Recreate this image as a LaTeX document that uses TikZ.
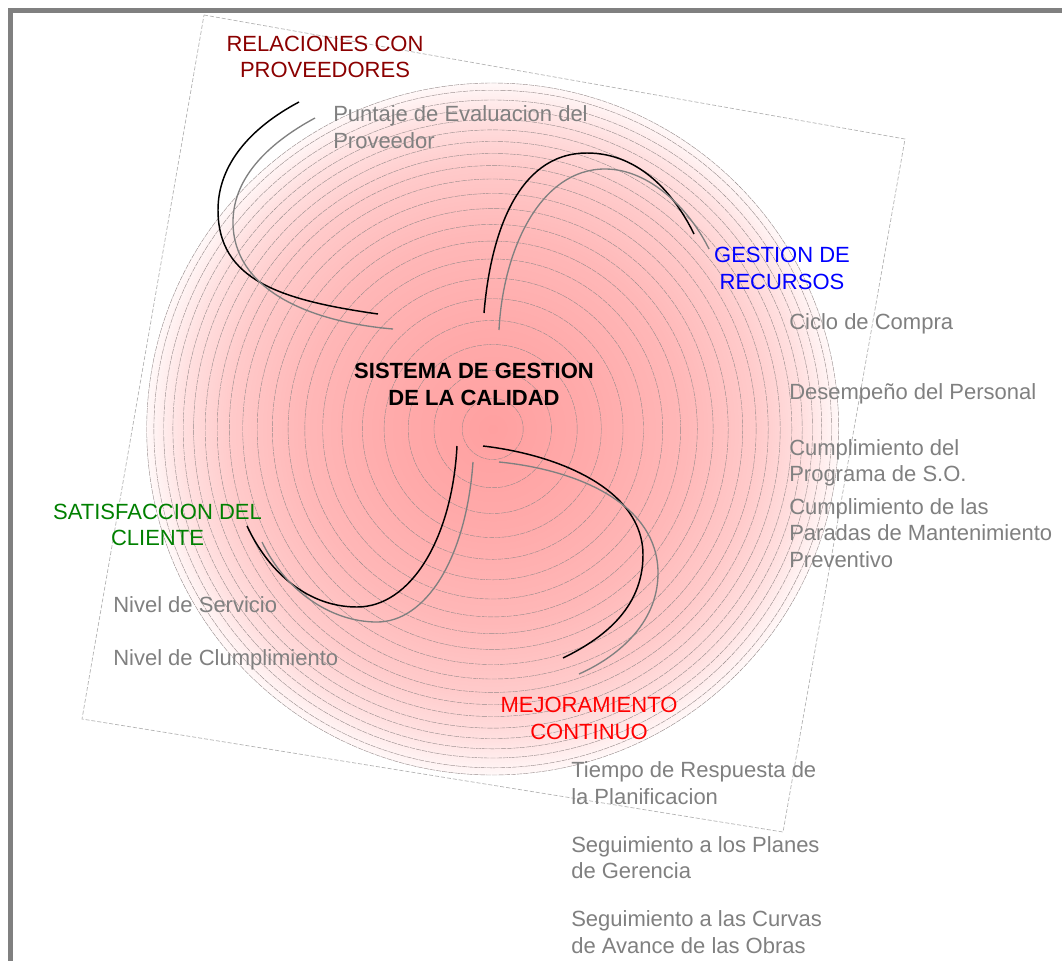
\documentclass[tikz,border=0pt]{standalone}
\usepackage{fontspec}
\setmainfont{Liberation Sans}
\definecolor{pinkA}{RGB}{255,160,160}
\definecolor{pinkB}{RGB}{255,170,170}
\definecolor{pinkC}{RGB}{255,184,184}
\definecolor{pinkD}{RGB}{255,202,202}
\definecolor{pinkF}{RGB}{255,224,224}
\definecolor{pinkE}{RGB}{255,248,248}
\definecolor{ringc}{RGB}{150,138,138}
\definecolor{itemc}{RGB}{128,128,128}
\definecolor{relc}{RGB}{139,0,0}
\definecolor{gesc}{RGB}{0,0,255}
\definecolor{satc}{RGB}{0,128,0}
\definecolor{mejc}{RGB}{255,0,0}
\pgfdeclareradialshading{discshade}{\pgfpointorigin}{color(0bp)=(pinkA); color(7bp)=(pinkB); color(14bp)=(pinkC); color(19bp)=(pinkD); color(22.5bp)=(pinkF); color(25bp)=(pinkE); color(50bp)=(pinkE)}
\tikzset{
  txt/.style={inner sep=0pt, font=\fontsize{16.5}{19.5}\selectfont},
  item/.style={txt, text=itemc, anchor=base west},
  head/.style={txt, anchor=base},
  ringline/.style={draw=ringc, line width=0.3pt, dash pattern=on 4pt off 0.7pt},
  sqline/.style={draw=gray!60, line width=0.5pt, dash pattern=on 3pt off 1.5pt},
  blackarc/.style={draw=black, line width=1.1pt},
  grayarc/.style={draw=itemc, line width=1.0pt}
}
\begin{document}
\begin{tikzpicture}[x=0.75pt,y=-0.75pt]
\useasboundingbox (0,0) rectangle (1062,960);
\fill[white] (0,0) rectangle (1062,960);
% frame
\draw[itemc, line width=3.75pt, line join=miter] (10.5,965) -- (10.5,10.5) -- (1067,10.5);
% rotated square
\draw[sqline] (204,15) -- (905,139) -- (783,832) -- (82,719) -- cycle;
% disc
\coordinate (ctr) at (492.7,429);
\shade[shading=discshade] (ctr) circle (346);
\foreach \r in {30.5,58.7,84.5,108.6,130.3,150.8,170,187.9,204.6,220.4,235.5,250,263.4,275.5,287.5,299.1,309.5,319.8,329,338.8,346}
  \draw[ringline] (ctr) circle (\r);
% arcs: relaciones
\draw[blackarc] (299,102) .. controls (250,128) and (218,165) .. (218,210)
  .. controls (218,280) and (280,300) .. (378,314);
\draw[grayarc] (315,118) .. controls (265,145) and (233,180) .. (233,222)
  .. controls (233,290) and (310,322) .. (393,329);
% arcs: gestion
\draw[blackarc] (484,313) .. controls (490,240) and (515,153) .. (587,153)
  .. controls (640,153) and (675,195) .. (694,234);
\draw[grayarc] (499,330) .. controls (503,250) and (540,169) .. (605,169)
  .. controls (650,169) and (690,210) .. (709,249);
% arcs: mejoramiento
\draw[blackarc] (483,446) .. controls (560,455) and (643,490) .. (643,555)
  .. controls (643,610) and (600,640) .. (563,658);
\draw[grayarc] (499,462) .. controls (580,470) and (658,505) .. (658,573)
  .. controls (658,625) and (615,658) .. (579,674);
% arcs: satisfaccion
\draw[blackarc] (457,446) .. controls (452,540) and (410,607) .. (357,607)
  .. controls (310,607) and (270,575) .. (247,526);
\draw[grayarc] (473,462) .. controls (466,560) and (425,622) .. (377,622)
  .. controls (330,622) and (285,590) .. (262,542);
% center title
\node[head, font=\fontsize{16.5}{19.5}\selectfont\bfseries] (tit1) at (474,378.3) {SISTEMA DE GESTION};
\node[head, font=\fontsize{16.5}{19.5}\selectfont\bfseries] (tit2) at (474,405) {DE LA CALIDAD};
% relaciones
\node[head, text=relc] (rel1) at (325,51) {RELACIONES CON};
\node[head, text=relc] (rel2) at (325,77.3) {PROVEEDORES};
\node[item] (rel3) at (333,121.7) {Puntaje de Evaluacion del};
\node[item] (rel4) at (333,148.3) {Proveedor};
% gestion
\node[head, text=gesc] (ges1) at (782,262.7) {GESTION DE};
\node[head, text=gesc] (ges2) at (782,289.3) {RECURSOS};
\node[item] (ges3) at (789,329.3) {Ciclo de Compra};
\node[item] (ges4) at (789,399) {Desempeño del Personal};
\node[item] (ges5) at (789,455.5) {Cumplimiento del};
\node[item] (ges6) at (789,481.5) {Programa de S.O.};
\node[item] (ges7) at (789,514.5) {Cumplimiento de las};
\node[item] (ges8) at (789,540.5) {Paradas de Mantenimiento};
\node[item] (ges9) at (789,567) {Preventivo};
% satisfaccion
\node[head, text=satc] (sat1) at (157.5,519.3) {SATISFACCION DEL};
\node[head, text=satc] (sat2) at (157.5,545.5) {CLIENTE};
\node[item] (sat3) at (113,612) {Nivel de Servicio};
\node[item] (sat4) at (113,665) {Nivel de Clumplimiento};
% mejoramiento
\node[head, text=mejc] (mej1) at (589,712) {MEJORAMIENTO};
\node[head, text=mejc] (mej2) at (589,739) {CONTINUO};
\node[item] (mej3) at (571,777.3) {Tiempo de Respuesta de};
\node[item] (mej4) at (571,804) {la Planificacion};
\node[item] (mej5) at (571,852.5) {Seguimiento a los Planes};
\node[item] (mej6) at (571,878.5) {de Gerencia};
\node[item] (mej7) at (571,926.5) {Seguimiento a las Curvas};
\node[item] (mej8) at (571,953) {de Avance de las Obras};
\end{tikzpicture}
\end{document}
